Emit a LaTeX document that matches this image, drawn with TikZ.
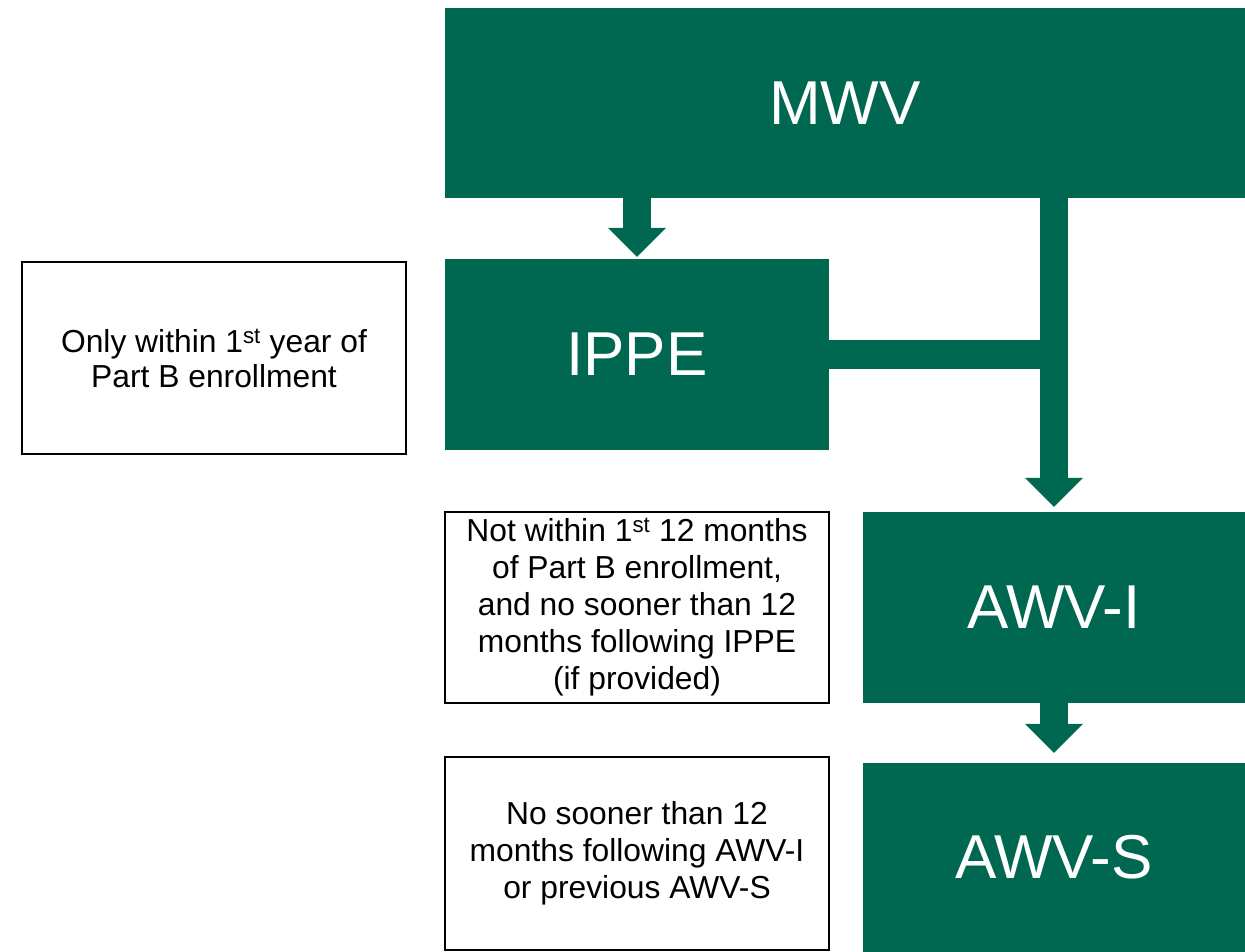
\documentclass[tikz,border=0pt]{standalone}
\usepackage{fontspec}
\setmainfont{Liberation Sans}
\usetikzlibrary{arrows.meta}
\definecolor{awvgreen}{RGB}{0,103,80}

\begin{document}
\begin{tikzpicture}[x=1pt,y=-1pt,
    greenbox/.style={fill=awvgreen, text=white, inner sep=0pt, minimum height=190pt,
      font=\fontsize{62}{74}\selectfont},
    notebox/.style={draw=black, line width=2pt, fill=white, inner sep=0pt,
      minimum width=384pt, minimum height=191pt, align=center,
      font=\fontsize{31.8}{37}\selectfont},
    fatarrow/.style={draw=awvgreen, line width=28pt,
      -{Triangle[width=58pt,length=29pt,line width=0pt]}}]
  \useasboundingbox (0,0) rectangle (1245,952);

  % visits
  \node[greenbox, minimum width=800pt] (mwv) at (845,103) {MWV};
  \node[greenbox, minimum width=384pt, minimum height=191pt] (ippe) at (637,354.5) {IPPE};
  \node[greenbox, minimum width=382pt, minimum height=191pt] (awvi) at (1054,607.5) {AWV-I};
  \node[greenbox, minimum width=382pt, minimum height=189pt] (awvs) at (1054,857.5) {AWV-S};

  % conditions
  \node[notebox, minimum height=192pt, font=\fontsize{31.8}{35}\selectfont] (firstyear) at (214,358)
    {Only within 1\textsuperscript{st} year of\\Part B enrollment};
  \node[notebox] (initial) at (637,607.5)
    {Not within 1\textsuperscript{st} 12 months\\of Part B enrollment,\\and no sooner than 12\\months following IPPE\\(if provided)};
  \node[notebox, minimum height=193pt] (subsequent) at (637,853.5)
    {No sooner than 12\\months following AWV-I\\or previous AWV-S};

  % arrows
  \draw[fatarrow, shorten >=2pt] (ippe.north |- mwv.south) -- (ippe.north);
  \draw[awvgreen, line width=29pt] (ippe.east) -- (ippe.east -| awvi.north);
  \draw[fatarrow, shorten >=5pt] (mwv.south -| awvi.north) -- (awvi.north);
  \draw[fatarrow, shorten >=10pt] (awvi.south) -- (awvs.north);
\end{tikzpicture}
\end{document}
